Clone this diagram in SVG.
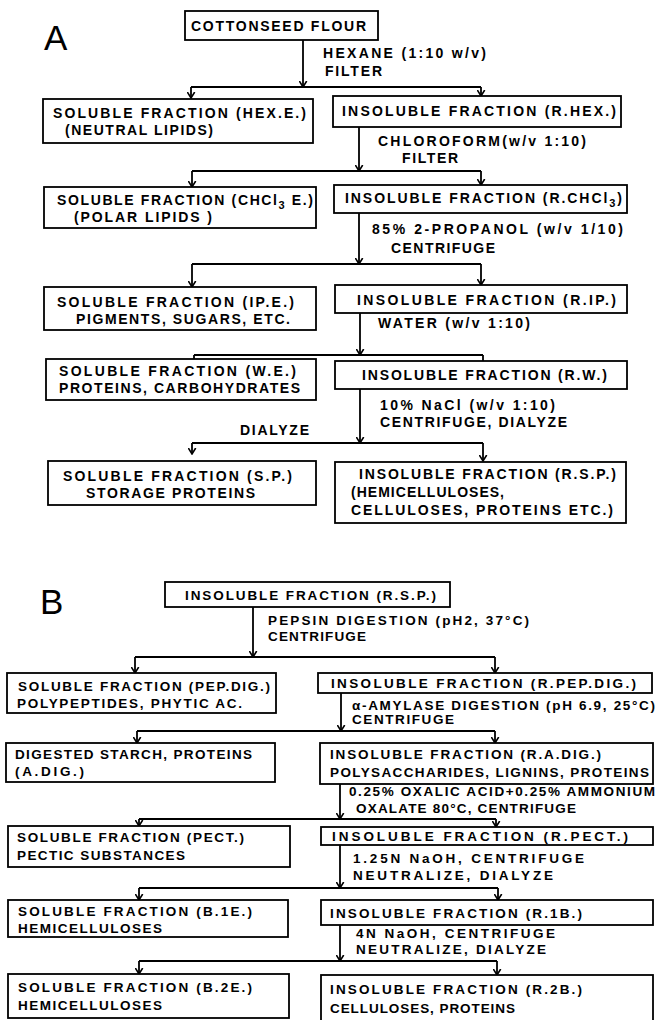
<svg xmlns="http://www.w3.org/2000/svg" width="658" height="1020" viewBox="0 0 658 1020">
<defs>
<marker id="ah" viewBox="0 0 7 9" refX="6.5" refY="4.5" markerWidth="7" markerHeight="9" markerUnits="userSpaceOnUse" orient="auto">
<path d="M0.5,0.8 L6.5,4.5 L0.5,8.2" fill="none" stroke="#000" stroke-width="1.6"/>
</marker>
<style>
.bx{fill:#fff;stroke:#000;stroke-width:1.8}
.t{font-family:"Liberation Sans",Arial,sans-serif;font-weight:bold;font-size:14px;fill:#000}
.tb{font-family:"Liberation Sans",Arial,sans-serif;font-weight:bold;font-size:13.5px;fill:#000}
.big{font-family:"Liberation Sans",Arial,sans-serif;font-size:35px;fill:#000}
.ln{fill:none;stroke:#000;stroke-width:1.8}
.ar{fill:none;stroke:#000;stroke-width:1.8;marker-end:url(#ah)}
</style>
</defs>
<rect width="658" height="1020" fill="#fff"/>

<text class="big" x="44" y="50">A</text>
<text class="big" x="40" y="614">B</text>

<g id="connectors">
<path class="ar" d="M303,40 V87"/>
<path class="ln" d="M191,87 H481"/>
<path class="ar" d="M191,87 V98"/>
<path class="ar" d="M481,87 V96"/>
<path class="ar" d="M359,127 V171"/>
<path class="ln" d="M192,171 H481"/>
<path class="ar" d="M192,171 V187"/>
<path class="ar" d="M481,171 V185"/>
<path class="ar" d="M359,213 V264"/>
<path class="ln" d="M192,264 H481"/>
<path class="ar" d="M192,264 V287"/>
<path class="ar" d="M481,264 V285"/>
<path class="ar" d="M360,313 V355"/>
<path class="ln" d="M194,355 H483"/>
<path class="ln" d="M194,355 V359 M483,355 V361"/>
<path class="ar" d="M360,389 V443"/>
<path class="ln" d="M192,443 H483"/>
<path class="ar" d="M192,443 V454"/>
<path class="ar" d="M483,443 V461"/>
<path class="ar" d="M253,607 V657"/>
<path class="ln" d="M135,657 H495"/>
<path class="ar" d="M135,657 V673"/>
<path class="ar" d="M495,657 V673"/>
<path class="ar" d="M341,693 V731"/>
<path class="ln" d="M137,731 H495"/>
<path class="ar" d="M137,731 V743"/>
<path class="ar" d="M495,731 V743"/>
<path class="ar" d="M340,784 V819"/>
<path class="ln" d="M139,819 H496"/>
<path class="ar" d="M139,819 V826"/>
<path class="ar" d="M496,819 V827"/>
<path class="ar" d="M340,845 V888"/>
<path class="ln" d="M139,888 H498"/>
<path class="ar" d="M139,888 V900"/>
<path class="ar" d="M498,888 V900"/>
<path class="ar" d="M340,925 V961"/>
<path class="ln" d="M139,961 H497"/>
<path class="ar" d="M139,961 V974"/>
<path class="ar" d="M497,961 V975"/>
</g>

<g id="connector-labels">
<text class="t" x="323" y="58" textLength="163" lengthAdjust="spacing">HEXANE (1:10 w/v)</text>
<text class="t" x="325" y="76" textLength="57" lengthAdjust="spacing">FILTER</text>
<text class="t" x="378" y="146" textLength="208" lengthAdjust="spacing">CHLOROFORM(w/v 1:10)</text>
<text class="t" x="402" y="163" textLength="56" lengthAdjust="spacing">FILTER</text>
<text class="t" x="372" y="234" textLength="251" lengthAdjust="spacing">85% 2-PROPANOL (w/v 1/10)</text>
<text class="t" x="391" y="253" textLength="104" lengthAdjust="spacing">CENTRIFUGE</text>
<text class="t" x="378" y="328" textLength="152" lengthAdjust="spacing">WATER (w/v 1:10)</text>
<text class="t" x="380" y="410" textLength="175" lengthAdjust="spacing">10% NaCl (w/v 1:10)</text>
<text class="t" x="380" y="427" textLength="187" lengthAdjust="spacing">CENTRIFUGE, DIALYZE</text>
<text class="t" x="240" y="435" textLength="69" lengthAdjust="spacing">DIALYZE</text>
<text class="tb" x="268" y="625" textLength="261" lengthAdjust="spacing">PEPSIN DIGESTION (pH2, 37°C)</text>
<text class="tb" x="268" y="641" textLength="98" lengthAdjust="spacing">CENTRIFUGE</text>
<text class="tb" x="352" y="710" textLength="303" lengthAdjust="spacing">α-AMYLASE DIGESTION (pH 6.9, 25°C)</text>
<text class="tb" x="352" y="724" textLength="102" lengthAdjust="spacing">CENTRIFUGE</text>
<text class="tb" x="349" y="796" textLength="306" lengthAdjust="spacing">0.25% OXALIC ACID+0.25% AMMONIUM</text>
<text class="tb" x="356" y="813" textLength="220" lengthAdjust="spacing">OXALATE 80°C, CENTRIFUGE</text>
<text class="tb" x="353" y="863" textLength="231" lengthAdjust="spacing">1.25N NaOH, CENTRIFUGE</text>
<text class="tb" x="353" y="880" textLength="200" lengthAdjust="spacing">NEUTRALIZE, DIALYZE</text>
<text class="tb" x="356" y="938" textLength="199" lengthAdjust="spacing">4N NaOH, CENTRIFUGE</text>
<text class="tb" x="356" y="954" textLength="190" lengthAdjust="spacing">NEUTRALIZE, DIALYZE</text>
</g>

<g id="n-cottonseed"><rect class="bx" x="185" y="11" width="193" height="29"/>
<text class="t" x="191" y="31" textLength="175" lengthAdjust="spacing">COTTONSEED FLOUR</text></g>
<g id="n-hexe"><rect class="bx" x="43" y="99" width="270" height="44"/>
<text class="t" x="53" y="118" textLength="253" lengthAdjust="spacing">SOLUBLE FRACTION (HEX.E.)</text>
<text class="t" x="65" y="135" textLength="148" lengthAdjust="spacing">(NEUTRAL LIPIDS)</text></g>
<g id="n-rhex"><rect class="bx" x="333" y="96" width="288" height="31"/>
<text class="t" x="342" y="116" textLength="274" lengthAdjust="spacing">INSOLUBLE FRACTION (R.HEX.)</text></g>
<g id="n-chcl3e"><rect class="bx" x="44" y="187" width="272" height="41"/>
<text class="t" x="57" y="205" textLength="256" lengthAdjust="spacing">SOLUBLE FRACTION (CHCl<tspan dy="4" font-size="11">3</tspan><tspan dy="-4"> E.)</tspan></text>
<text class="t" x="74" y="222" textLength="138" lengthAdjust="spacing">(POLAR LIPIDS )</text></g>
<g id="n-rchcl3"><rect class="bx" x="334" y="185" width="293" height="28"/>
<text class="t" x="345" y="203" textLength="277" lengthAdjust="spacing">INSOLUBLE FRACTION (R.CHCl<tspan dy="4" font-size="11">3</tspan><tspan dy="-4">)</tspan></text></g>
<g id="n-ipe"><rect class="bx" x="44" y="287" width="272" height="43"/>
<text class="t" x="57" y="307" textLength="237" lengthAdjust="spacing">SOLUBLE FRACTION (IP.E.)</text>
<text class="t" x="76" y="324" textLength="214" lengthAdjust="spacing">PIGMENTS, SUGARS, ETC.</text></g>
<g id="n-rip"><rect class="bx" x="335" y="285" width="292" height="28"/>
<text class="t" x="357" y="305" textLength="259" lengthAdjust="spacing">INSOLUBLE FRACTION (R.IP.)</text></g>
<g id="n-we"><rect class="bx" x="46" y="359" width="270" height="41"/>
<text class="t" x="59" y="376" textLength="237" lengthAdjust="spacing">SOLUBLE FRACTION (W.E.)</text>
<text class="t" x="59" y="393" textLength="241" lengthAdjust="spacing">PROTEINS, CARBOHYDRATES</text></g>
<g id="n-rw"><rect class="bx" x="335" y="361" width="292" height="28"/>
<text class="t" x="362" y="380" textLength="245" lengthAdjust="spacing">INSOLUBLE FRACTION (R.W.)</text></g>
<g id="n-sp"><rect class="bx" x="48" y="461" width="268" height="44"/>
<text class="t" x="63" y="481" textLength="229" lengthAdjust="spacing">SOLUBLE FRACTION (S.P.)</text>
<text class="t" x="86" y="498" textLength="169" lengthAdjust="spacing">STORAGE PROTEINS</text></g>
<g id="n-rsp"><rect class="bx" x="335" y="462" width="291" height="61"/>
<text class="t" x="359" y="479" textLength="257" lengthAdjust="spacing">INSOLUBLE FRACTION (R.S.P.)</text>
<text class="t" x="351" y="497" textLength="153" lengthAdjust="spacing">(HEMICELLULOSES,</text>
<text class="t" x="351" y="515" textLength="262" lengthAdjust="spacing">CELLULOSES, PROTEINS ETC.)</text></g>

<g id="m-rsp"><rect class="bx" x="165" y="582" width="285" height="25"/>
<text class="tb" x="185" y="600" textLength="251" lengthAdjust="spacing">INSOLUBLE FRACTION (R.S.P.)</text></g>
<g id="m-pepdig"><rect class="bx" x="7" y="673" width="269" height="40"/>
<text class="tb" x="18" y="691" textLength="252" lengthAdjust="spacing">SOLUBLE FRACTION (PEP.DIG.)</text>
<text class="tb" x="17" y="708" textLength="225" lengthAdjust="spacing">POLYPEPTIDES, PHYTIC AC.</text></g>
<g id="m-rpepdig"><rect class="bx" x="318" y="673" width="334" height="20"/>
<text class="tb" x="331" y="688" textLength="305" lengthAdjust="spacing">INSOLUBLE FRACTION (R.PEP.DIG.)</text></g>
<g id="m-adig"><rect class="bx" x="6" y="743" width="269" height="39"/>
<text class="tb" x="15" y="759" textLength="237" lengthAdjust="spacing">DIGESTED STARCH, PROTEINS</text>
<text class="tb" x="15" y="776" textLength="69" lengthAdjust="spacing">(A.DIG.)</text></g>
<g id="m-radig"><rect class="bx" x="320" y="743" width="333" height="41"/>
<text class="tb" x="330" y="759" textLength="271" lengthAdjust="spacing">INSOLUBLE FRACTION (R.A.DIG.)</text>
<text class="tb" x="330" y="777" textLength="319" lengthAdjust="spacing">POLYSACCHARIDES, LIGNINS, PROTEINS</text></g>
<g id="m-pect"><rect class="bx" x="8" y="826" width="282" height="41"/>
<text class="tb" x="17" y="842" textLength="227" lengthAdjust="spacing">SOLUBLE FRACTION (PECT.)</text>
<text class="tb" x="17" y="860" textLength="168" lengthAdjust="spacing">PECTIC SUBSTANCES</text></g>
<g id="m-rpect"><rect class="bx" x="321" y="827" width="332" height="18"/>
<text class="tb" x="332" y="841" textLength="296" lengthAdjust="spacing">INSOLUBLE FRACTION (R.PECT.)</text></g>
<g id="m-b1e"><rect class="bx" x="8" y="900" width="280" height="37"/>
<text class="tb" x="18" y="916" textLength="234" lengthAdjust="spacing">SOLUBLE FRACTION (B.1E.)</text>
<text class="tb" x="18" y="933" textLength="144" lengthAdjust="spacing">HEMICELLULOSES</text></g>
<g id="m-r1b"><rect class="bx" x="321" y="900" width="332" height="25"/>
<text class="tb" x="330" y="918" textLength="252" lengthAdjust="spacing">INSOLUBLE FRACTION (R.1B.)</text></g>
<g id="m-b2e"><rect class="bx" x="8" y="974" width="281" height="44"/>
<text class="tb" x="18" y="992" textLength="234" lengthAdjust="spacing">SOLUBLE FRACTION (B.2E.)</text>
<text class="tb" x="18" y="1010" textLength="144" lengthAdjust="spacing">HEMICELLULOSES</text></g>
<g id="m-r2b"><rect class="bx" x="321" y="975" width="332" height="60"/>
<text class="tb" x="330" y="994" textLength="252" lengthAdjust="spacing">INSOLUBLE FRACTION (R.2B.)</text>
<text class="tb" x="330" y="1013" textLength="185" lengthAdjust="spacing">CELLULOSES, PROTEINS</text></g>
</svg>
